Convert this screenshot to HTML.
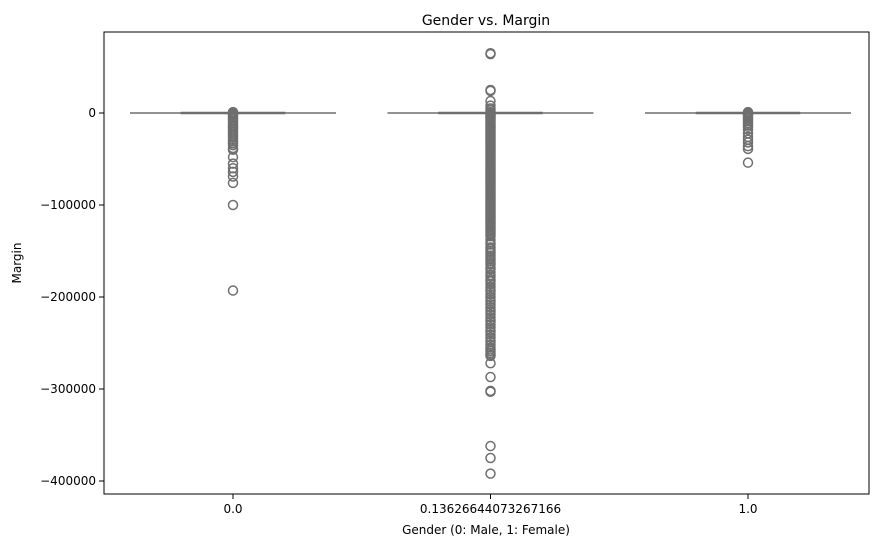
<!DOCTYPE html>
<html><head><meta charset="utf-8">
<style>
html,body{margin:0;padding:0;background:#fff;}
svg{display:block;font-family:"DejaVu Sans","Liberation Sans",sans-serif;}
</style></head>
<body>
<svg id="chart" width="888" height="547">
  <rect x="0" y="0" width="888" height="547" fill="#fff"/>
  <text x="486" y="25" font-size="14" text-anchor="middle" fill="#000">Gender vs. Margin</text>
  <g id="marks"></g>
  <g id="axes"></g>
  <text x="486" y="534" font-size="12" text-anchor="middle">Gender (0: Male, 1: Female)</text>
  <text transform="translate(21,263) rotate(-90)" font-size="12" text-anchor="middle">Margin</text>
</svg>
<script>
const categories = ["0.0", "0.13626644073267166", "1.0"];
const medians = [0, 0, 0];
const q1s = [0, 0, 0];
const q3s = [0, 0, 0];
const yTicks = [0, -100000, -200000, -300000, -400000];
const yTickLabels = ["0", "\u2212100000", "\u2212200000", "\u2212300000", "\u2212400000"];
const outliers0 = [1000,500,-500,-1500,-2500,-4000,-5500,-7000,-9000,-11000,-13000,-15000,-17000,-19000,-21000,-23000,-25000,-27000,-29000,-31000,-33000,-35000,-38000,-40000,-48000,-55000,-60000,-64000,-69000,-76000,-100000,-193000];
const outliers1 = [65000,64000,25000,24000,13000,8000,5000,3000,1000,0,-1000,-2000,-3000,-4000,-5000,-6000,-7500,-9000,-10500,-12000,-13500,-15000,-16500,-18000,-19500,-21000,-22500,-24000,-25500,-27000,-28500,-30000,-31500,-33000,-34500,-36000,-37500,-39000,-40500,-42000,-43500,-45000,-46500,-48000,-49500,-51000,-52500,-54000,-55500,-57000,-58500,-60000,-61500,-63000,-64500,-66000,-67500,-69000,-70500,-72000,-73500,-75000,-76500,-78000,-79500,-81000,-82500,-84000,-85500,-87000,-88500,-90000,-91500,-93000,-94500,-96000,-97500,-99000,-100500,-102000,-103500,-105000,-106500,-108000,-109500,-111000,-112500,-114000,-115500,-117000,-118500,-120000,-121500,-123000,-124500,-126000,-127500,-129000,-130500,-132000,-134000,-138000,-141000,-143000,-146000,-148000,-150000,-152000,-155000,-157000,-159000,-161000,-163000,-165000,-168000,-170000,-173000,-176000,-178000,-181000,-183000,-186000,-189000,-192000,-194000,-197000,-200000,-203000,-205000,-208000,-211000,-214000,-216000,-219000,-222000,-225000,-227000,-230000,-233000,-236000,-238000,-241000,-244000,-247000,-249000,-252000,-255000,-257000,-259000,-261000,-263000,-264000,-272000,-287000,-302000,-303000,-362000,-375000,-392000];
const outliers2 = [1000,500,-500,-1500,-2500,-4000,-5500,-7000,-9000,-11000,-13000,-15000,-18000,-22000,-26000,-29000,-32000,-36000,-39000,-54000];
const outlierSets = [outliers0, outliers1, outliers2];

const NS = "http://www.w3.org/2000/svg";
const X0 = 104, X1 = 869, Y0 = 32, Y1 = 494;
function xScale(i){ return 233 + i * 257.5; }
function yScale(v){ return 113 - v * 0.00092; }
function mk(tag, attrs, parent){ const e=document.createElementNS(NS,tag); for(const k in attrs) e.setAttribute(k,attrs[k]); parent.appendChild(e); return e; }
const marks=document.getElementById('marks'), axes=document.getElementById('axes');
const col="#6f6f6f";
categories.forEach((c,i)=>{
  const cx=xScale(i);
  const g=mk('g',{},marks);
  
  
  const wl=mk('line',{x1:cx-103,x2:cx+103,y1:yScale(medians[i]),y2:yScale(medians[i]),stroke:col,'stroke-width':1.5},g);
  
  
  const box=mk('rect',{x:cx-52,y:yScale(q3s[i])-1,width:104,height:Math.max(2,yScale(q1s[i])-yScale(q3s[i])+2),fill:col,stroke:col,'stroke-width':0.5},g);
  
  
  outlierSets[i].forEach(v=>{
    const p=mk('circle',{cx:cx,cy:yScale(v),r:4.5,fill:'none',stroke:col,'stroke-width':1.5},g);
    
    
  });
  const t=mk('line',{x1:cx,x2:cx,y1:Y1,y2:Y1+5,stroke:'#000','stroke-width':1},axes);
  
  
  const tl=mk('text',{x:cx,y:Y1+19,'font-size':12,'text-anchor':'middle'},axes);
  tl.textContent=c;
  
  
});
yTicks.forEach((v,i)=>{
  const y=yScale(v);
  const t=mk('line',{x1:X0-5,x2:X0,y1:y,y2:y,stroke:'#000','stroke-width':1},axes);
  
  
  const tl=mk('text',{x:X0-8,y:y+4,'font-size':12,'text-anchor':'end'},axes);
  tl.textContent=yTickLabels[i];
  
  
});
const frame=mk('rect',{x:X0,y:Y0,width:X1-X0,height:Y1-Y0,fill:'none',stroke:'#000','stroke-width':1},axes);


</script>
</body></html>
